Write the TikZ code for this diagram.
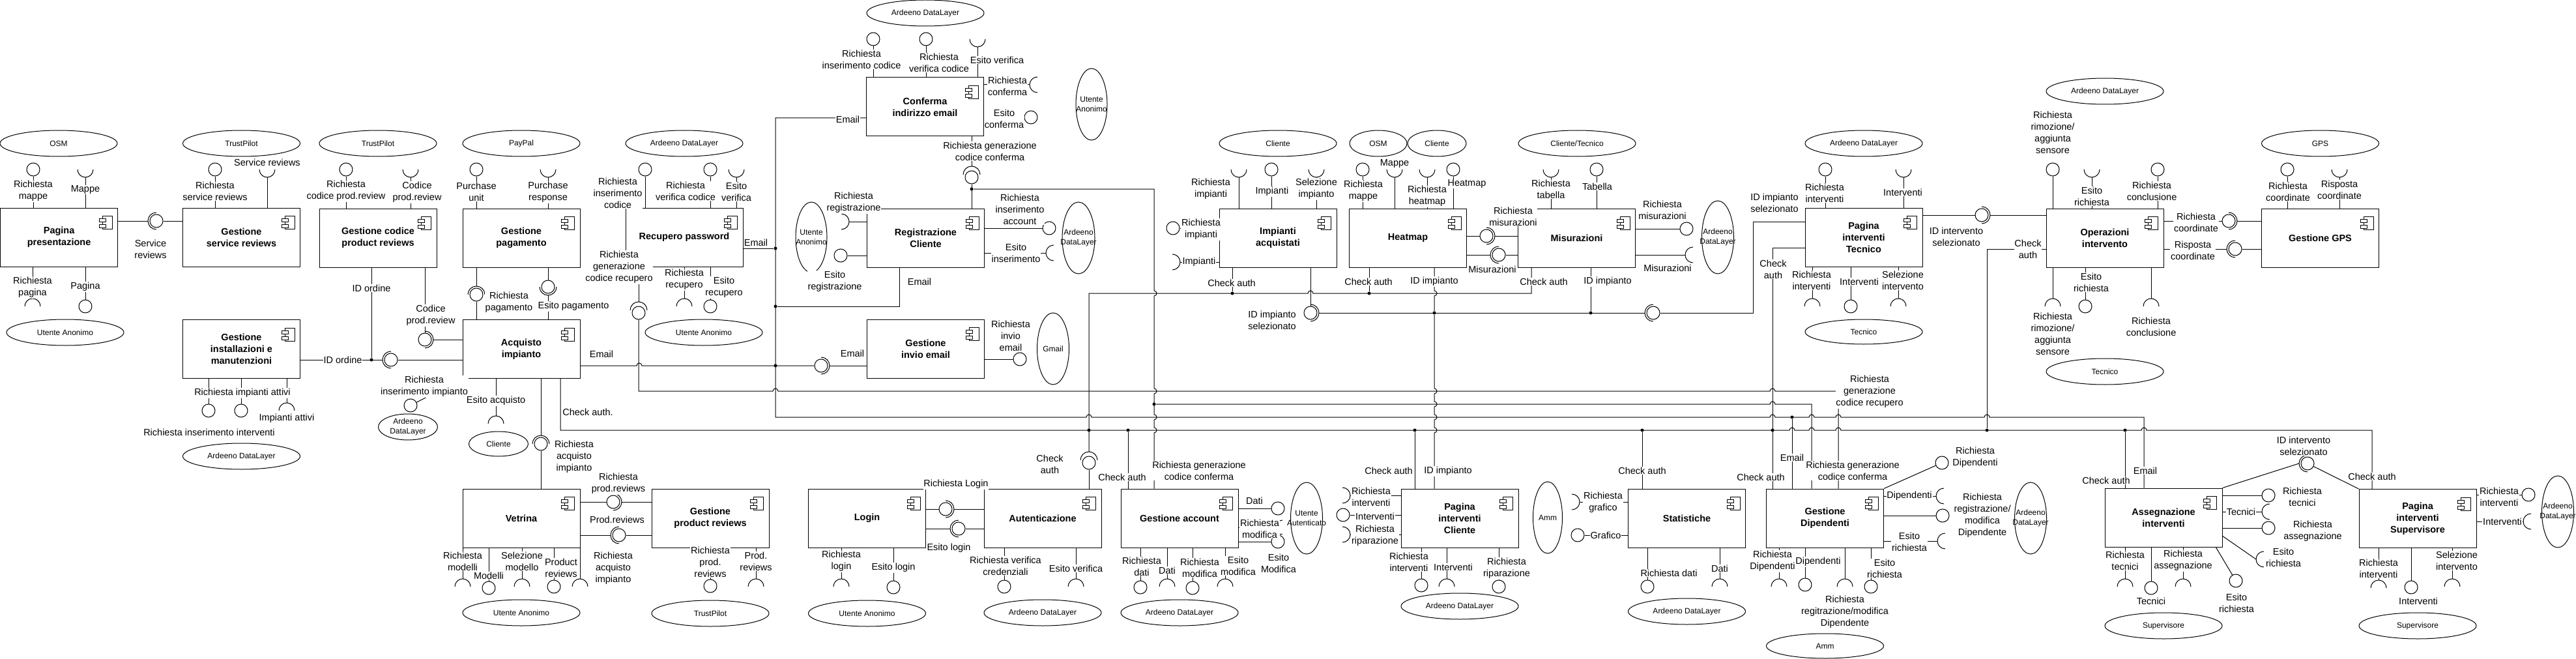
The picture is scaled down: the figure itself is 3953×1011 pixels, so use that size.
\documentclass[tikz,border=0pt]{standalone}
\usepackage{fontspec}
\setmainfont{Liberation Sans}
\usetikzlibrary{shapes.geometric}
\newcounter{lbc}
\tikzset{
  comp/.style={draw, line width=1pt, fill=white, minimum width=180pt, minimum height=90pt, inner sep=1pt, align=center, font=\fontsize{14.5}{18}\selectfont\bfseries},
  ball/.style={draw, circle, fill=white, minimum size=20pt, inner sep=0pt, line width=1pt},
  actshape/.style={draw, ellipse, line width=1pt, inner sep=0pt},
  acttext/.style={align=center, inner sep=0pt, font=\fontsize{12}{14.5}\selectfont},
  lbl/.style={fill=white, inner sep=0.8pt, align=center, font=\fontsize{14.5}{18}\selectfont},
  dotst/.style={circle, fill=black, minimum size=5pt, inner sep=0pt},
  hp/.style={insert path={arc[start angle=180,end angle=0,radius=4pt]}},
  vp/.style={insert path={arc[start angle=90,end angle=-90,radius=4pt]}},
}
\newcommand\Comp[4]{\node[comp] (#1) at (#2,#3) {#4};
  \draw[line width=1pt] ([shift={(-24,13)}]#1.north east) rectangle ++(15,20);
  \draw[line width=1pt, fill=white] ([shift={(-29,17)}]#1.north east) rectangle ++(10,5);
  \draw[line width=1pt, fill=white] ([shift={(-29,26)}]#1.north east) rectangle ++(10,5);}
\newcommand\Actor[6]{\node[actshape, minimum width=#4pt, minimum height=#5pt] (#1) at (#2,#3) {};
  \node[acttext] (#1t) at (#1.center) {#6};}
\newcommand\Ball[3]{\node[ball] (#1) at (#2,#3) {};}
\newcommand\JDot[3]{\node[dotst] (#1) at (#2,#3) {};}
\newcommand\SockU[4][12]{\coordinate (#2) at (#3,#4+#1); \draw (#3-#1,#4) arc[start angle=180,end angle=360,radius=#1pt];}
\newcommand\SockD[4][12]{\coordinate (#2) at (#3,#4-#1); \draw (#3-#1,#4) arc[start angle=180,end angle=0,radius=#1pt];}
\newcommand\SockR[4][12]{\coordinate (#2) at (#3-#1,#4); \draw (#3,#4-#1) arc[start angle=90,end angle=270,radius=#1pt];}
\newcommand\SockL[4][12]{\coordinate (#2) at (#3+#1,#4); \draw (#3,#4-#1) arc[start angle=90,end angle=-90,radius=#1pt];}
\newcommand\ToN[2]{\draw (#1) -- (#1 |- #2.north);}
\newcommand\ToS[2]{\draw (#1) -- (#1 |- #2.south);}
\newcommand\ToE[2]{\draw (#1) -- (#1 -| #2.east);}
\newcommand\ToW[2]{\draw (#1) -- (#1 -| #2.west);}
\newcommand\Lab[3]{\stepcounter{lbc}\node[lbl] (lab\thelbc) at (#1,#2) {#3};}
\begin{document}
\begin{tikzpicture}[x=1pt,y=-1pt,line width=1pt]
\fill[white] (0,0) rectangle (3953,1011);
\useasboundingbox (0,0) rectangle (3953,1011);
% ---------- components ----------
\Comp{pp}{90.6}{364}{Pagina\\presentazione}
\Comp{gsr}{370.5}{364}{Gestione\\service reviews}
\Comp{gcpr}{580}{365}{Gestione codice\\product reviews}
\Comp{gpag}{800}{365}{Gestione\\pagamento}
\Comp{rp}{1050}{364}{Recupero password}
\Comp{cie}{1419.5}{164}{Conferma\\indirizzo email}
\Comp{rc}{1420.5}{365}{Registrazione\\Cliente}
\Comp{gie}{1420.5}{535}{Gestione\\invio email}
\Comp{gim}{370.5}{535.5}{Gestione\\installazioni e\\manutenzioni}
\Comp{acq}{800}{535.5}{Acquisto\\impianto}
\Comp{vet}{800}{795}{Vetrina}
\Comp{gprr}{1090}{795}{Gestione\\product reviews}
\Comp{login}{1330.5}{795}{Login}
\Comp{aut}{1600}{795}{Autenticazione}
\Comp{gacc}{1810}{795}{Gestione account}
\Comp{ia}{1961}{365}{Impianti\\acquistati}
\Comp{hm}{2160.5}{365}{Heatmap}
\Comp{mis}{2419.5}{365}{Misurazioni}
\Comp{pit}{2860}{364}{Pagina\\interventi\\Tecnico}
\Comp{oi}{3230}{365}{Operazioni\\intervento}
\Comp{ggps}{3560.5}{365}{Gestione GPS}
\Comp{pic}{2240}{795}{Pagina\\interventi\\Cliente}
\Comp{stat}{2588.5}{795}{Statistiche}
\Comp{gd}{2800.5}{795}{Gestione\\Dipendenti}
\Comp{ai}{3320}{794}{Assegnazione\\interventi}
\Comp{pis}{3710}{795.5}{Pagina\\interventi\\Supervisore}
% ---------- actors ----------
\Actor{osma}{90}{220}{180}{40}{OSM}
\Actor{tpa}{370.5}{220}{180}{40}{TrustPilot}
\Actor{tpb}{580}{220}{180}{40}{TrustPilot}
\Actor{paypal}{800}{220}{180}{40}{PayPal}
\Actor{adlrp}{1050}{220}{180}{40}{Ardeeno DataLayer}
\Actor{adlcie}{1420}{20}{180}{40}{Ardeeno DataLayer}
\Actor{uacie}{1675}{160}{48}{110}{Utente\\Anonimo}
\Actor{uarc}{1245}{364}{48}{108}{Utente\\Anonimo}
\Actor{adlrc}{1655}{365}{50}{110}{Ardeeno\\DataLayer}
\Actor{gmail}{1616}{535}{49}{110}{Gmail}
\Actor{uapp}{100}{510}{180}{40}{Utente Anonimo}
\Actor{uarp}{1080}{510}{180}{40}{Utente Anonimo}
\Actor{adlgim}{370.5}{700}{180}{40}{Ardeeno DataLayer}
\Actor{adlacq}{626}{655}{91}{40}{Ardeeno\\DataLayer}
\Actor{cliacq}{765}{681}{91}{38}{Cliente}
\Actor{uavet}{800}{940}{180}{40}{Utente Anonimo}
\Actor{tpc}{1090}{941}{180}{40}{TrustPilot}
\Actor{ualog}{1330.5}{941}{180}{40}{Utente Anonimo}
\Actor{adlaut}{1600}{940}{180}{40}{Ardeeno DataLayer}
\Actor{adlgacc}{1810}{940}{180}{40}{Ardeeno DataLayer}
\Actor{uaut}{2005}{795}{49}{110}{Utente\\Autenticato}
\Actor{clia}{1961}{220}{180}{40}{Cliente}
\Actor{osmb}{2115}{220}{88}{40}{OSM}
\Actor{clhm}{2205}{220}{90}{40}{Cliente}
\Actor{ctmis}{2420}{220}{180}{40}{Cliente/Tecnico}
\Actor{adlmis}{2636}{364}{49}{112}{Ardeeno\\DataLayer}
\Actor{adlpit}{2860}{220}{180}{40}{Ardeeno DataLayer}
\Actor{tecpit}{2860}{509}{180}{38}{Tecnico}
\Actor{adloi}{3230}{140}{180}{40}{Ardeeno DataLayer}
\Actor{tecoi}{3230}{570}{180}{40}{Tecnico}
\Actor{gpsa}{3560.5}{220}{180}{40}{GPS}
\Actor{adlpic}{2240}{930}{180}{40}{Ardeeno DataLayer}
\Actor{ammst}{2375}{794}{45}{110}{Amm}
\Actor{adlst}{2588.5}{938}{180}{40}{Ardeeno DataLayer}
\Actor{adlgd}{3116}{795}{49}{110}{Ardeeno\\DataLayer}
\Actor{ammgd}{2800.5}{991}{180}{38}{Amm}
\Actor{supai}{3320}{960}{180}{40}{Supervisore}
\Actor{suppis}{3710}{960}{180}{40}{Supervisore}
\Actor{adlpis}{3925}{785}{49}{110}{Ardeeno\\DataLayer}
% ---------- interfaces ----------
% Pagina presentazione
\Ball{ppb1}{51}{260}\ToN{ppb1}{pp}
\SockU{pps1}{131}{260}\ToN{pps1}{pp}
\SockD{pps2}{50}{470}\ToS{pps2}{pp}
\Ball{ppb2}{131}{470}\ToS{ppb2}{pp}
\SockR[13]{ppgs}{240}{339}\Ball{ppgb}{240}{339}\ToE{ppgs}{pp}\ToW{ppgb}{gsr}
% Gestione service reviews
\Ball{gsrb1}{330}{260}\ToN{gsrb1}{gsr}
\SockU{gsrs1}{410}{260}\ToN{gsrs1}{gsr}
% Gestione codice product reviews
\Ball{gcb1}{531}{260}\ToN{gcb1}{gcpr}
\SockU{gcs1}{630}{260}\ToN{gcs1}{gcpr}
\Ball{gcb2}{652}{521}\ToS{gcb2}{gcpr}
\SockL[13]{gcs2}{652}{521}\ToW{gcs2}{acq}
\JDot{dio}{570}{552}
\draw (gcpr.south -| dio) -- (dio);
% Gestione installazioni
\SockR[13]{gis1}{600}{552}\Ball{gib1}{600}{552}
\draw (gim.east |- dio) -- (gis1);
\ToW{gib1}{acq}
\Ball{gib2}{320}{630}\ToS{gib2}{gim}
\Ball{gib3}{370}{630}\ToS{gib3}{gim}
\SockD{gis2}{440}{630}\ToS{gis2}{gim}
% Gestione pagamento
\Ball{gpab1}{731}{260}\ToN{gpab1}{gpag}
\SockU{gpas1}{841}{260}\ToN{gpas1}{gpag}
\SockD[13]{gpas2}{731}{452}\Ball{gpab2}{731}{452}\ToS{gpas2}{gpag}\ToN{gpab2}{acq}
\Ball{gpab3}{841}{440}\SockU[13]{gpas3}{841}{440}\ToS{gpab3}{gpag}\ToN{gpas3}{acq}
% Acquisto impianto
\Ball{acqb1}{630}{622}\draw (acqb1) -- (acq.south west);
\SockD{acqs1}{761}{650}\ToS{acqs1}{acq}
\SockD[13]{acqs2}{830}{681}\Ball{acqb2}{830}{681}\ToS{acqs2}{acq}\ToN{acqb2}{vet}
% Vetrina
\Ball{vb1}{941}{770}\SockL[13]{vs1}{941}{770}\ToE{vb1}{vet}\ToW{vs1}{gprr}
\SockR[13]{vs2}{950}{821}\Ball{vb2}{950}{821}\ToE{vs2}{vet}\ToW{vb2}{gprr}
\SockD{vs3}{710}{900}\ToS{vs3}{vet}
\Ball{vb3}{750}{902}\ToS{vb3}{vet}
\SockD{vs4}{801}{900}\ToS{vs4}{vet}
\Ball{vb4}{850}{900}\ToS{vb4}{vet}
\SockD{vs5}{890}{900}\ToS{vs5}{vet}
% Gestione product reviews
\Ball{gprb1}{1090}{899}\ToS{gprb1}{gprr}
\SockD{gprs1}{1160}{900}\ToS{gprs1}{gprr}
% Login
\SockD{ls1}{1291}{900}\ToS{ls1}{login}
\Ball{lb1}{1371}{901}\ToS{lb1}{login}
\Ball{lb2}{1451}{781}\SockL[13]{ls2}{1451}{781}\ToE{lb2}{login}\ToW{ls2}{aut}
\SockR[13]{ls3}{1471}{811}\Ball{lb3}{1471}{811}\ToE{ls3}{login}\ToW{lb3}{aut}
% Autenticazione
\Ball{ab1}{1541}{900}\ToS{ab1}{aut}
\SockD{as1}{1651}{900}\ToS{as1}{aut}
\Ball{ab2}{1671}{710}\SockD[13]{as2}{1671}{706}\ToN{ab2}{aut}
% Gestione account
\Ball{gab1}{1961}{780}\ToE{gab1}{gacc}
\SockR[11]{gas1}{1968}{809}\ToE{gas1}{gacc}
\Ball{gab2}{1961}{831}\ToE{gab2}{gacc}
\Ball{gab3}{1750}{901}\ToS{gab3}{gacc}
\SockD{gas2}{1791}{900}\ToS{gas2}{gacc}
\Ball{gab4}{1830}{902}\ToS{gab4}{gacc}
\SockD{gas3}{1880}{900}\ToS{gas3}{gacc}
% Recupero password
\Ball{rpb1}{990}{260}\ToN{rpb1}{rp}
\Ball{rpb2}{1090}{260}\ToN{rpb2}{rp}
\SockU{rps1}{1130}{260}\ToN{rps1}{rp}
\SockD[13]{rps2}{980}{476}\Ball{rpb3}{980}{480}\ToS{rps2}{rp}
\SockD{rps3}{1050}{470}\ToS{rps3}{rp}
\Ball{rpb4}{1090}{470}\ToS{rpb4}{rp}
% Conferma indirizzo email
\Ball{cb1}{1340}{60}\ToN{cb1}{cie}
\Ball{cb2}{1421}{60}\ToN{cb2}{cie}
\SockU{cs1}{1500}{60}\ToN{cs1}{cie}
\SockR{cs2}{1592}{130}\ToE{cs2}{cie}
\Ball{cb3}{1582}{180}\ToE{cb3}{cie}
\SockD[13]{cs3}{1491}{268}\Ball{cb4}{1491}{272}\ToS{cs3}{cie}\ToN{cb4}{rc}
% Registrazione Cliente
\SockL{rcs1}{1291}{340}\ToW{rcs1}{rc}
\Ball{rcb1}{1290}{392}\ToW{rcb1}{rc}
\Ball{rcb2}{1610}{350}\ToE{rcb2}{rc}
\SockR{rcs2}{1617}{388}\ToE{rcs2}{rc}
% Gestione invio email
\Ball{gieb1}{1260}{561}\SockL[13]{gies1}{1260}{561}\ToW{gies1}{gie}
\Ball{gieb2}{1565}{551}\ToE{gieb2}{gie}
% Impianti acquistati
\SockU{ias1}{1901}{260}\ToN{ias1}{ia}
\Ball{iab1}{1951}{260}\ToN{iab1}{ia}
\SockU{ias2}{2020}{260}\ToN{ias2}{ia}
\Ball{iab2}{1800}{350}\ToW{iab2}{ia}
\SockL{ias3}{1799}{402}\ToW{ias3}{ia}
\Ball{iab3}{2011}{480}\SockL[13]{ias4}{2011}{480}\ToS{iab3}{ia}
\SockR[13]{ias5}{2537}{480}\Ball{iab4}{2537}{480}
\draw (ias4) -- (ias5);
\coordinate (ii1) at (2690,480);
\coordinate (ii2) at (2690,340);
\draw (iab4) -- (ii1) -- (ii2) -- (ii2 -| pit.west);
% Heatmap
\Ball{hmb1}{2091}{260}\ToN{hmb1}{hm}
\SockU{hms1}{2140}{260}\ToN{hms1}{hm}
\SockU{hms2}{2190}{260}\ToN{hms2}{hm}
\Ball{hmb2}{2230}{260}\ToN{hmb2}{hm}
\Ball{hmb3}{2281}{362}\SockL[13]{hms3}{2281}{362}\ToE{hmb3}{hm}\ToW{hms3}{mis}
\SockR[13]{hms4}{2300}{391}\Ball{hmb4}{2300}{391}\ToE{hms4}{hm}\ToW{hmb4}{mis}
% Misurazioni
\SockU{mss1}{2380}{260}\ToN{mss1}{mis}
\Ball{msb1}{2450}{260}\ToN{msb1}{mis}
\Ball{msb2}{2588}{351}\ToE{msb2}{mis}
\SockR{mss2}{2598}{391}\ToE{mss2}{mis}
% Pagina interventi Tecnico
\Ball{pb1}{2801}{260}\ToN{pb1}{pit}
\SockU{ps1}{2921}{260}\ToN{ps1}{pit}
\SockD{ps2}{2781}{470}\ToS{ps2}{pit}
\Ball{pb2}{2840}{470}\ToS{pb2}{pit}
\SockD{ps3}{2913}{470}\ToS{ps3}{pit}
\Ball{pb3}{3041}{330}\SockL[13]{ps4}{3041}{330}\ToE{pb3}{pit}\ToW{ps4}{oi}
% Operazioni intervento
\Ball{ob1}{3150}{260}\ToN{ob1}{oi}
\SockU{os1}{3210}{260}\ToN{os1}{oi}
\Ball{ob2}{3311}{260}\ToN{ob2}{oi}
\Ball{ob3}{3420}{339}\SockL[13]{os2}{3420}{339}\ToE{ob3}{oi}\ToW{os2}{ggps}
\SockR[13]{os3}{3430}{382}\Ball{ob4}{3430}{382}\ToE{os3}{oi}\ToW{ob4}{ggps}
\SockD{os4}{3150}{470}\ToS{os4}{oi}
\Ball{ob5}{3200}{470}\ToS{ob5}{oi}
\SockD{os5}{3301}{470}\ToS{os5}{oi}
% Gestione GPS
\Ball{gb1}{3510}{260}\ToN{gb1}{ggps}
\SockU{gs1}{3590}{260}\ToN{gs1}{ggps}
% Pagina interventi Cliente
\SockL{pcs1}{2060}{760}\ToW{pcs1}{pic}
\Ball{pcb1}{2061}{790}\ToW{pcb1}{pic}
\SockL{pcs2}{2060}{820}\ToW{pcs2}{pic}
\Ball{pcb2}{2181}{898}\ToS{pcb2}{pic}
\SockD{pcs3}{2220}{900}\ToS{pcs3}{pic}
\Ball{pcb3}{2300}{900}\ToS{pcb3}{pic}
% Statistiche
\SockL{sts1}{2412}{770}\ToW{sts1}{stat}
\Ball{stb1}{2421}{821}\ToW{stb1}{stat}
\Ball{stb2}{2528}{900}\ToS{stb2}{stat}
\SockD{sts2}{2639}{900}\ToS{sts2}{stat}
% Gestione Dipendenti
\Ball{gdb1}{2980}{710}\draw (gdb1) -- (gd.north east);
\SockR{gds1}{2983}{761}\ToE{gds1}{gd}
\Ball{gdb2}{2981}{791}\ToE{gdb2}{gd}
\SockR{gds2}{2985}{830}\ToE{gds2}{gd}
\SockD{gds3}{2730}{900}\ToS{gds3}{gd}
\Ball{gdb3}{2770}{897}\ToS{gdb3}{gd}
\SockD{gds4}{2831}{900}\ToS{gds4}{gd}
\Ball{gdb4}{2871}{900}\ToS{gdb4}{gd}
% Assegnazione interventi
\SockR[13]{ais1}{3541}{711}\Ball{aib1}{3541}{711}
\draw (ai.north east) -- (ais1);
\draw (aib1) -- (pis.north west);
\Ball{aib2}{3481}{760}\ToE{aib2}{ai}
\SockR{ais2}{3483}{785}\ToE{ais2}{ai}
\Ball{aib3}{3481}{810}\ToE{aib3}{ai}
\SockR{ais3}{3474}{858}\coordinate (aic1) at (3410,822);\draw (aic1) -- (ais3);
\SockD{ais4}{3261}{900}\ToS{ais4}{ai}
\Ball{aib4}{3301}{902}\ToS{aib4}{ai}
\SockD{ais5}{3350}{900}\ToS{ais5}{ai}
\Ball{aib5}{3431}{891}\coordinate (aic2) at (3400,839);\draw (aic2) -- (aib5);
% Pagina interventi Supervisore
\Ball{pisb1}{3880}{759}\ToE{pisb1}{pis}
\SockR{piss1}{3884}{800}\ToE{piss1}{pis}
\SockD{piss2}{3650}{902}\ToS{piss2}{pis}
\Ball{pisb2}{3700}{901}\ToS{pisb2}{pis}
\SockD{piss3}{3763}{900}\ToS{piss3}{pis}
% ---------- buses ----------
% Email
\coordinate (e0) at (1190,181);
\coordinate (e1) at (1190,640);
\coordinate (e2) at (3290,640);
\draw (cie.west |- e0) -- (e0) -- (e1) -- (1667,640) [hp] -- (2716,640) [hp] -- (2776,640) [hp] -- (2817,640) [hp] -- (3045,640) [hp] -- (e2) -- (e2 |- ai.north);
\JDot{de1}{1190}{381}
\JDot{de2}{1190}{470}
\JDot{de3}{1190}{561}
\JDot{de4}{2750}{640}
\draw (rp.east |- de1) -- (de1);
\coordinate (e3) at (1380,470);
\draw (rc.south -| e3) -- (e3) -- (de2);
\draw (acq.east |- de3) -- (977,561) [hp] -- (gieb1);
\draw (de4) -- (de4 |- gd.north);
% Richiesta generazione codice recupero
\coordinate (rc1) at (980,600);
\coordinate (rc2) at (2821,600);
\draw (rpb3) -- (rc1) -- (1186,600) [hp] -- (2716,600) [hp] -- (rc2) -- (rc2 |- gd.north);
% Richiesta generazione codice conferma
\JDot{dcf1}{1491}{290}
\coordinate (cf1) at (1771,290);
\draw (dcf1) -- (cf1) -- (1771,446) [vp] -- (1771,596) [vp] -- (1771,636) [vp] -- (1771,656) [vp] -- (cf1 |- gacc.north);
\JDot{dcf2}{1771}{620}
\coordinate (cf2) at (2780,620);
\draw (dcf2) -- (2716,620) [hp] -- (cf2) -- (cf2 |- gd.north);
% Check auth
\coordinate (ca0) at (860,660);
\coordinate (cae) at (3640,660);
\draw (acq.south -| ca0) -- (ca0) -- (2746,660) [hp] -- (2776,660) [hp] -- (2817,660) [hp] -- (3286,660) [hp] -- (cae) -- (cae |- pis.north);
\coordinate (cb1) at (1671,450);
\coordinate (cb2) at (2350,450);
\draw (as2) -- (cb1) -- (2007,450) [hp] -- (cb2) -- (cb2 |- mis.south);
\JDot{dca1}{1671}{660}
\JDot{dca2}{1731}{660}
\JDot{dca3}{1891}{450}
\JDot{dca4}{2101}{450}
\JDot{dca5}{2720}{660}
\JDot{dca6}{3049}{660}
\JDot{dca7}{2171}{660}
\JDot{dca8}{2520}{660}
\JDot{dca9}{3261}{660}
\draw (dca2) -- (dca2 |- gacc.north);
\draw (dca3) -- (dca3 |- ia.south);
\draw (dca4) -- (dca4 |- hm.south);
\coordinate (pc1) at (2720,380);
\draw (pit.west |- pc1) -- (pc1) -- (pc1 |- gd.north);
\coordinate (oc1) at (3049,382);
\draw (oi.west |- oc1) -- (oc1) -- (dca6);
\draw (dca7) -- (dca7 |- pic.north);
\draw (dca8) -- (dca8 |- stat.north);
\draw (dca9) -- (dca9 |- ai.north);
% ID impianto
\JDot{dii1}{2201}{480}
\JDot{dii2}{2441}{480}
\draw (hm.south -| dii1) -- (2201,446) [vp] -- (dii1) -- (2201,596) [vp] -- (2201,616) [vp] -- (2201,636) [vp] -- (2201,656) [vp] -- (dii1 |- pic.north);
\draw (mis.south -| dii2) -- (dii2);
% ---------- labels ----------
\Lab{51}{293}{Richiesta\\mappe}
\Lab{131}{291}{Mappe}
\Lab{50}{441}{Richiesta\\pagina}
\Lab{131}{440}{Pagina}
\Lab{231}{382}{Service\\reviews}
\Lab{330}{293}{Richiesta\\service reviews}
\Lab{410}{249}{Service reviews}
\Lab{531}{293}{Richiesta\\codice prod.review}
\Lab{640}{295}{Codice\\prod.review}
\Lab{570}{442}{ID ordine}
\Lab{661}{484}{Codice\\prod.review}
\Lab{526}{552}{ID ordine}
\Lab{372}{603}{Richiesta impianti attivi}
\Lab{440}{642}{Impianti attivi}
\Lab{321}{663}{Richiesta inserimento interventi}
\Lab{731}{294}{Purchase\\unit}
\Lab{841}{295}{Purchase\\response}
\Lab{781}{464}{Richiesta\\pagamento}
\Lab{880}{470}{Esito pagamento}
\Lab{923}{543}{Email}
\Lab{651}{593}{Richiesta\\inserimento impianto}
\Lab{761}{615}{Esito acquisto}
\Lab{881}{701}{Richiesta\\acquisto\\impianto}
\Lab{902}{632}{Check auth.}
\Lab{949}{742}{Richiesta\\prod.reviews}
\Lab{947}{797}{Prod.reviews}
\Lab{710}{861}{Richiesta\\modelli}
\Lab{750}{883}{Modelli}
\Lab{801}{861}{Selezione\\modello}
\Lab{861}{871}{Product\\reviews}
\Lab{941}{872}{Richiesta\\acquisto\\impianto}
\Lab{1090}{862}{Richiesta\\prod.\\reviews}
\Lab{1160}{861}{Prod.\\reviews}
\Lab{1291}{861}{Richiesta\\login}
\Lab{1371}{871}{Esito login}
\Lab{1467}{743}{Richiesta Login}
\Lab{1456}{841}{Esito login}
\Lab{1543}{868}{Richiesta verifica\\credenziali}
\Lab{1651}{872}{Esito verifica}
\Lab{1611}{712}{Check\\auth}
\Lab{1722}{732}{Check auth}
\Lab{1840}{722}{Richiesta generazione\\codice conferma}
\Lab{1925}{768}{Dati}
\Lab{1933}{811}{Richiesta\\modifica}
\Lab{1962}{864}{Esito\\Modifica}
\Lab{1752}{869}{Richiesta\\dati}
\Lab{1791}{875}{Dati}
\Lab{1841}{871}{Richiesta\\modifica}
\Lab{1900}{868}{Esito\\modifica}
\Lab{948}{296}{Richiesta\\inserimento\\codice}
\Lab{1052}{293}{Richiesta\\verifica codice}
\Lab{1130}{294}{Esito\\verifica}
\Lab{1160}{372}{Email}
\Lab{950}{410}{Richiesta\\generazione\\codice recupero}
\Lab{1050}{429}{Richiesta\\recupero}
\Lab{1111}{441}{Esito\\recupero}
\Lab{1322}{91}{Richiesta\\inserimento codice}
\Lab{1441}{96}{Richiesta\\verifica codice}
\Lab{1530}{92}{Esito verifica}
\Lab{1546}{132}{Richiesta\\conferma}
\Lab{1541}{182}{Esito\\conferma}
\Lab{1301}{183}{Email}
\Lab{1519}{232}{Richiesta generazione\\codice conferma}
\Lab{1310}{311}{Richiesta\\registrazione}
\Lab{1281}{432}{Esito\\registrazione}
\Lab{1565}{321}{Richiesta\\inserimento\\account}
\Lab{1559}{388}{Esito\\inserimento}
\Lab{1411}{432}{Email}
\Lab{1308}{542}{Email}
\Lab{1551}{515}{Richiesta\\invio\\email}
\Lab{1858}{290}{Richiesta\\impianti}
\Lab{1952}{294}{Impianti}
\Lab{2020}{290}{Selezione\\impianto}
\Lab{1843}{352}{Richiesta\\impianti}
\Lab{1840}{402}{Impianti}
\Lab{1890}{434}{Check auth}
\Lab{1952}{491}{ID impianto\\selezionato}
\Lab{2092}{293}{Richiesta\\mappe}
\Lab{2140}{251}{Mappe}
\Lab{2190}{301}{Richiesta\\heatmap}
\Lab{2251}{282}{Heatmap}
\Lab{2322}{332}{Richiesta\\misurazioni}
\Lab{2290}{413}{Misurazioni}
\Lab{2100}{432}{Check auth}
\Lab{2201}{432}{ID impianto}
\Lab{2380}{290}{Richiesta\\tabella}
\Lab{2451}{286}{Tabella}
\Lab{2551}{322}{Richiesta\\misurazioni}
\Lab{2559}{411}{Misurazioni}
\Lab{2369}{432}{Check auth}
\Lab{2467}{432}{ID impianto}
\Lab{2800}{296}{Richiesta\\interventi}
\Lab{2920}{295}{Interventi}
\Lab{2780}{430}{Richiesta\\interventi}
\Lab{2853}{432}{Interventi}
\Lab{2920}{430}{Selezione\\intervento}
\Lab{2723}{311}{ID impianto\\selezionato}
\Lab{2721}{413}{Check\\auth}
\Lab{3002}{363}{ID intervento\\selezionato}
\Lab{3150}{203}{Richiesta\\rimozione/\\aggiunta\\sensore}
\Lab{3210}{301}{Esito\\richiesta}
\Lab{3302}{293}{Richiesta\\conclusione}
\Lab{3370}{341}{Richiesta\\coordinate}
\Lab{3365}{384}{Risposta\\coordinate}
\Lab{3150}{512}{Richiesta\\rimozione/\\aggiunta\\sensore}
\Lab{3209}{433}{Esito\\richiesta}
\Lab{3301}{501}{Richiesta\\conclusione}
\Lab{3112}{382}{Check\\auth}
\Lab{3511}{294}{Richiesta\\coordinate}
\Lab{3590}{291}{Risposta\\coordinate}
\Lab{2104}{762}{Richiesta\\interventi}
\Lab{2110}{792}{Interventi}
\Lab{2110}{822}{Richiesta\\riparazione}
\Lab{2162}{862}{Richiesta\\interventi}
\Lab{2230}{870}{Interventi}
\Lab{2312}{872}{Richiesta\\riparazione}
\Lab{2131}{722}{Check auth}
\Lab{2222}{723}{ID impianto}
\Lab{2460}{771}{Richiesta\\grafico}
\Lab{2464}{821}{Grafico}
\Lab{2561}{879}{Richiesta dati}
\Lab{2639}{872}{Dati}
\Lab{2520}{722}{Check auth}
\Lab{3031}{702}{Richiesta\\Dipendenti}
\Lab{2930}{761}{Dipendenti}
\Lab{3042}{791}{Richiesta\\registrazione/\\modifica\\Dipendente}
\Lab{2930}{831}{Esito\\richiesta}
\Lab{2720}{861}{Richiesta\\Dipendenti}
\Lab{2790}{862}{Dipendenti}
\Lab{2831}{939}{Richiesta\\regitrazione/modifica\\Dipendente}
\Lab{2892}{872}{Esito\\richiesta}
\Lab{2702}{732}{Check auth}
\Lab{2750}{702}{Email}
\Lab{2843}{722}{Richiesta generazione\\codice conferma}
\Lab{2869}{601}{Richiesta\\generazione\\codice recupero}
\Lab{3232}{737}{Check auth}
\Lab{3292}{722}{Email}
\Lab{3535}{684}{ID intervento\\selezionato}
\Lab{3533}{762}{Richiesta\\tecnici}
\Lab{3439}{785}{Tecnici}
\Lab{3549}{815}{Richiesta\\assegnazione}
\Lab{3504}{855}{Esito\\richiesta}
\Lab{3261}{860}{Richiesta\\tecnici}
\Lab{3301}{922}{Tecnici}
\Lab{3350}{860}{Richiesta\\assegnazione}
\Lab{3432}{925}{Esito\\richiesta}
\Lab{3640}{731}{Check auth}
\Lab{3835}{762}{Richiesta\\interventi}
\Lab{3840}{800}{Interventi}
\Lab{3650}{872}{Richiesta\\interventi}
\Lab{3711}{922}{Interventi}
\Lab{3770}{860}{Selezione\\intervento}
\end{tikzpicture}
\end{document}
